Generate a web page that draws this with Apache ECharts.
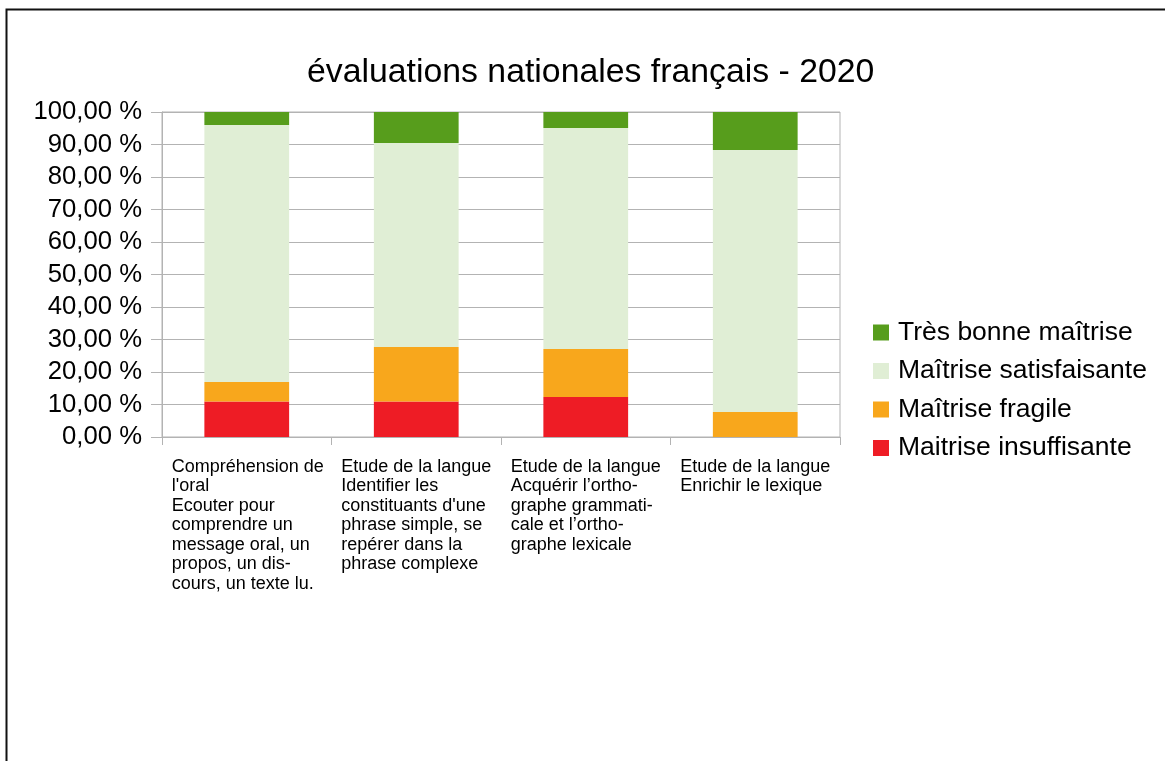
<!DOCTYPE html>
<html>
<head>
<meta charset="utf-8">
<script src="https://cdn.jsdelivr.net/npm/echarts@6/dist/echarts.min.js"></script>
<style>
  html, body { margin: 0; padding: 0; background: #fff; }
  #chart { width: 1165px; height: 761px; }
</style>
</head>
<body>
<div id="chart"></div>
<script>
// domaines évalués (les retours à la ligne sont ceux du graphique d'origine)
const categories = [
  "Compréhension de\nl'oral\nEcouter pour\ncomprendre un\nmessage oral, un\npropos, un dis-\ncours, un texte lu.",
  "Etude de la langue\nIdentifier les\nconstituants d'une\nphrase simple, se\nrepérer dans la\nphrase complexe",
  "Etude de la langue\nAcquérir l’ortho-\ngraphe grammati-\ncale et l’ortho-\ngraphe lexicale",
  "Etude de la langue\nEnrichir le lexique"
]
// pourcentages par niveau de maîtrise
const insuffisante = [10.9, 10.9, 12.3, 0]
const fragile = [6.0, 16.8, 14.8, 7.7]
const satisfaisante = [79.1, 62.8, 68.0, 80.6]
const tresBonne = [4.0, 9.5, 4.9, 11.7]
const yTicks = [0, 10, 20, 30, 40, 50, 60, 70, 80, 90, 100]

const font = 'Liberation Sans'
const grey = '#b3b3b3'

const chart = echarts.init(document.getElementById('chart'))

const mkSeries = (name, data, color) => ({
  name,
  type: 'bar',
  stack: 'total',
  barWidth: '50%',
  data,
  itemStyle: { color },
  emphasis: { disabled: true }
})

chart.setOption({
  animation: false,
  backgroundColor: '#fff',
  textStyle: { fontFamily: font },
  title: {
    text: 'évaluations nationales français - 2020',
    left: 302,
    top: 51,
    textStyle: { fontFamily: font, fontSize: 33.8, fontWeight: 'normal', color: '#000' }
  },
  legend: {
    orient: 'vertical',
    left: 873,
    top: 319,
    padding: 0,
    itemWidth: 16,
    itemHeight: 16,
    itemGap: 11.5,
    icon: 'rect',
    data: ['Très bonne maîtrise', 'Maîtrise satisfaisante', 'Maîtrise fragile', 'Maitrise insuffisante'],
    textStyle: { fontFamily: font, fontSize: 26.5, lineHeight: 26.5, color: '#000', padding: [0, 0, 0, 4] }
  },
  grid: {
    left: 162,
    right: 325,
    top: 112,
    bottom: 324,
    show: true,
    borderColor: grey,
    borderWidth: 1
  },
  xAxis: {
    type: 'category',
    data: categories,
    axisLine: { lineStyle: { color: grey, width: 1 } },
    axisTick: { show: true, length: 8, lineStyle: { color: grey } },
    axisLabel: {
      interval: 0,
      margin: 20,
      align: 'center',
      verticalAlign: 'top',
      width: 150,
      formatter: v => '{l|' + v + '}',
      rich: {
        l: { fontFamily: font, fontSize: 18, lineHeight: 19.5, color: '#000', align: 'left' }
      }
    }
  },
  yAxis: {
    type: 'value',
    min: yTicks[0],
    max: yTicks[yTicks.length - 1],
    interval: 10,
    axisLine: { show: true, lineStyle: { color: grey, width: 1 } },
    axisTick: { show: true, length: 11, lineStyle: { color: grey } },
    splitLine: { lineStyle: { color: grey, width: 1 } },
    axisLabel: {
      margin: 20,
      fontFamily: font,
      fontSize: 25.7,
      color: '#000',
      padding: [4, 0, 0, 0],
      formatter: v => v.toFixed(2).replace('.', ',') + ' %'
    }
  },
  graphic: [{
    type: 'rect',
    shape: { x: 6.5, y: 9.5, width: 1400, height: 1000 },
    style: { fill: 'none', stroke: '#111', lineWidth: 2 },
    silent: true
  }],
  series: [
    mkSeries('Maitrise insuffisante', insuffisante, '#ee1c25'),
    mkSeries('Maîtrise fragile', fragile, '#f8a71c'),
    mkSeries('Maîtrise satisfaisante', satisfaisante, '#e0eed5'),
    mkSeries('Très bonne maîtrise', tresBonne, '#579d1c')
  ]
})
</script>
</body>
</html>
